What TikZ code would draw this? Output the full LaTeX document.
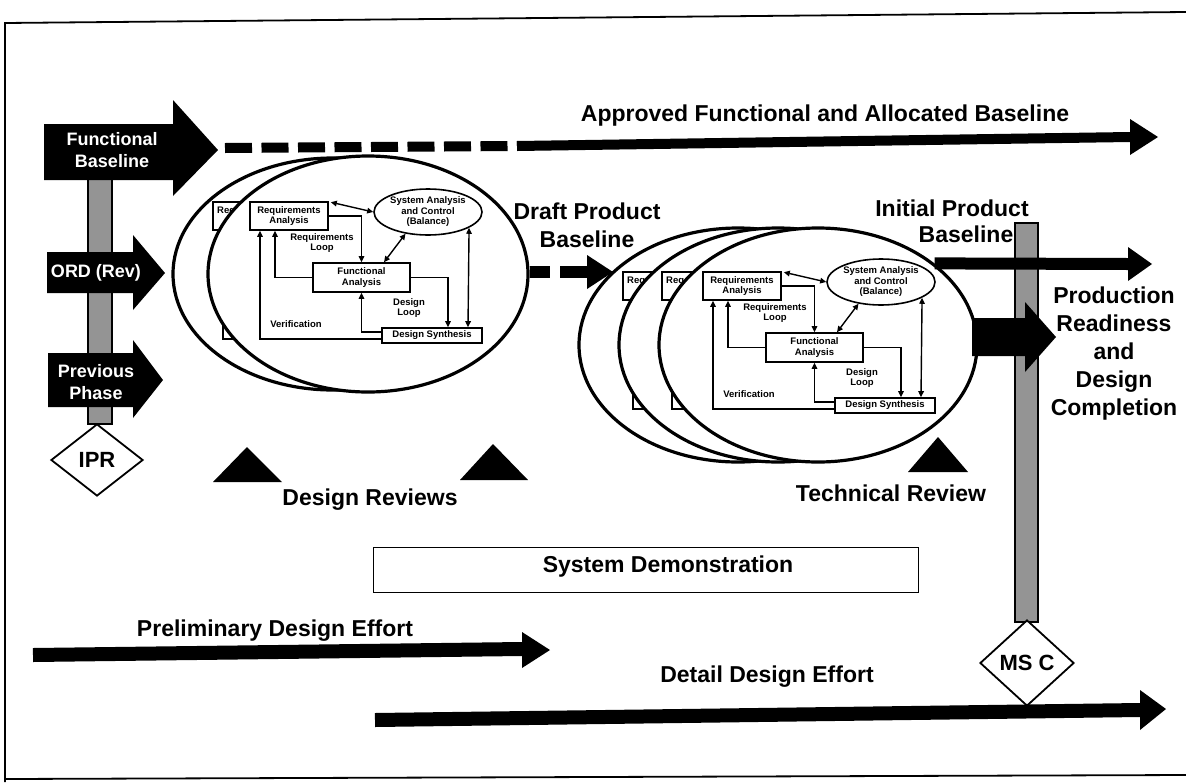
\documentclass[tikz,border=0pt]{standalone}
\usepackage{fontspec}
\setmainfont{Liberation Sans}
\usetikzlibrary{shapes.geometric,arrows.meta}
\tikzset{
  lbl/.style={font=\bfseries\fontsize{23}{28}\selectfont, inner sep=0pt, align=center},
  wlbl/.style={font=\bfseries\fontsize{18}{21.5}\selectfont, text=white, inner sep=0pt, align=center},
  small/.style={font=\bfseries\fontsize{9.5}{10.5}\selectfont, inner sep=0pt, align=center},
  ibox/.style={draw, line width=1.6pt, fill=white, rectangle, inner sep=0pt, small},
  iarr/.style={line width=1.4pt, -{Triangle[length=6pt,width=5.5pt]}},
  idbl/.style={line width=1.4pt, {Triangle[length=6pt,width=5.5pt]}-{Triangle[length=6pt,width=5.5pt]}},
  bigell/.style={draw, ellipse, fill=white, line width=3.2pt, inner sep=0pt},
  graybar/.style={draw, fill=black!42, line width=1.2pt},
  msdiam/.style={draw, diamond, fill=white, line width=1.8pt, inner sep=0pt, font=\bfseries\fontsize{22}{26}\selectfont},
  sysloop/.pic={
    \node[ibox, minimum width=78pt, minimum height=28pt] (-req) at (39,14) {Requirements\\Analysis};
    \node[draw, ellipse, fill=white, line width=1.6pt, minimum width=108pt, minimum height=46pt, inner sep=0pt] (-sac) at (178,10) {};
    \node[small] (-sact) at (178,10) {System Analysis\\and Control\\(Balance)};
    \node[ibox, minimum width=97pt, minimum height=29pt] (-fa) at (111.5,75.5) {Functional\\Analysis};
    \node[ibox, minimum width=100pt, minimum height=15pt] (-ds) at (182,133.5) {Design Synthesis};
    \node[small] (-rl) at (72,41) {Requirements\\Loop};
    \node[small] (-dl) at (159,106) {Design\\Loop};
    \node[small] (-vl) at (46,122) {Verification};
    \draw[idbl] ([xshift=2pt,yshift=-1pt]-req.north east) -- (-sac.west);
    \draw[iarr] (-req.east) -| (-fa.north);
    \draw[idbl] ([xshift=22.5pt]-fa.north) -- (-sac.224);
    \draw[iarr] (-fa.west) -| ([xshift=-14pt]-req.south);
    \draw[iarr] (-fa.east) -| ([xshift=16pt]-ds.north);
    \draw[iarr] ([yshift=3.5pt]-ds.west) -| (-fa.south);
    \draw[iarr] ([yshift=-3.5pt]-ds.west) -| ([xshift=-29pt]-req.south);
    \draw[idbl] (-sac.-21) -- ([xshift=36pt]-ds.north);
  },
  backloop/.pic={
    \node[ibox, minimum width=78pt, minimum height=28pt] (-req) at (39,14) {};
    \node[small, anchor=west] (-rq) at (4,9) {Req};
    \coordinate (-vs) at (132,137);
    \draw[iarr] (-vs) -| ([xshift=-29pt]-req.south);
  }
}
\begin{document}
\begin{tikzpicture}[x=1pt,y=-1pt]
\useasboundingbox (0,0) rectangle (1186,782);
\fill[white] (0,0) rectangle (1186,782);
% frame
\draw[line width=1.8pt] (1186,12) -- (5,23) -- (5,782);
\draw[line width=1.8pt] (5,779) -- (1186,775);

% left gray bar
\draw[graybar] (88,178) rectangle (112,424);

% left block arrows
\fill (44,124) -- (173,124) -- (173,100) -- (218,150) -- (173,196) -- (173,180) -- (44,180) -- cycle;
\node[wlbl] (fb) at (112,150) {Functional\\Baseline};
\fill (47,252) -- (133,252) -- (133,235) -- (165,273) -- (133,310) -- (133,293) -- (47,293) -- cycle;
\node[wlbl] (ord) at (96,273) {ORD (Rev)};
\fill (48,353) -- (133,353) -- (133,340) -- (163,380) -- (133,418) -- (133,407) -- (48,407) -- cycle;
\node[wlbl] (pp) at (96,382) {Previous\\Phase};
\node[msdiam, minimum width=92pt, minimum height=72pt] (ipr) at (97,460) {IPR};

% top arrow
\coordinate (ta) at (225,148);
\coordinate (tb) at (517,146);
\coordinate (tc) at (1130,137);
\draw[line width=10pt, dash pattern=on 27pt off 9.5pt] (ta) -- (tb);
\draw[line width=10pt] (tb) -- (tc);
\fill (1130,119) -- (1158,137) -- (1130,155) -- cycle;
\node[lbl] (afab) at (825,116) {Approved Functional and Allocated Baseline};

% group 1
\node[bigell, minimum width=320pt, minimum height=232pt] (e1b) at (333,274) {};
\pic (g1b) at (213,202) {backloop};
\node[bigell, minimum width=320pt, minimum height=236pt] (e1f) at (368,274) {};
\pic (g1f) at (250,202) {sysloop};

% group 2
\node[bigell, minimum width=318pt, minimum height=234pt] (e2a) at (738,345) {};
\pic (g2a) at (623,272) {backloop};
\node[bigell, minimum width=318pt, minimum height=234pt] (e2b) at (778,345) {};
\pic (g2b) at (662,272) {backloop};
\node[bigell, minimum width=318pt, minimum height=234pt] (e2c) at (818,345) {};
\pic (g2c) at (703,272) {sysloop};

% dashed arrow between groups
\coordinate (da) at (550,272);
\coordinate (db) at (560,272);
\coordinate (dc) at (587,272);
\draw[line width=12pt] (e1f.east |- da) -- (da);
\draw[line width=12pt] (db) -- (dc);
\fill (587,255) -- (613,272) -- (587,289) -- cycle;
\node[lbl] (dpb) at (587,225) {Draft Product\\Baseline};

% right gray bar
\draw[graybar] (1015,223) rectangle (1038,622);

% initial product baseline arrow
\coordinate (ipb) at (1128,264);
\draw[line width=12pt] (e2c.35) -- (ipb);
\fill (1128,247) -- (1152,264) -- (1128,281) -- cycle;
\node[lbl] (ip1) at (952,208) {Initial Product};
\node[lbl] (ip2) at (966,234) {Baseline};

% big arrow
\fill (972,318) -- (1025,318) -- (1025,302) -- (1056,337) -- (1025,372) -- (1025,356) -- (972,356) -- cycle;
\node[lbl] (prd) at (1114,354) {Production\\Readiness\\and\\Design\\Completion};

% reviews
\fill (213,482) -- (247,447) -- (282,482) -- cycle;
\fill (460,480) -- (493,444) -- (528,480) -- cycle;
\node[lbl] (dr) at (370,500) {Design Reviews};
\fill (908,472) -- (938,437) -- (968,472) -- cycle;
\node[lbl] (tr) at (891,493) {Technical Review};

% system demonstration
\node[draw, line width=1pt, minimum width=545pt, minimum height=45pt, inner sep=0pt] (sdbox) at (645.5,569.5) {};
\node[lbl] (sd) at (668,567) {System Demonstration};

% bottom arrows
\draw[line width=14pt] (33,655) -- (522,649);
\fill (522,632) -- (550,650) -- (522,668) -- cycle;
\node[lbl] (pde) at (275,631) {Preliminary Design Effort};
\draw[line width=14pt] (375,720) -- (1140,710);
\fill (1140,690) -- (1166,709) -- (1140,730) -- cycle;
\node[lbl] (dde) at (767,677) {Detail Design Effort};

\node[msdiam, minimum width=94pt, minimum height=86pt] (msc) at (1027,663) {MS C};
\end{tikzpicture}
\end{document}
